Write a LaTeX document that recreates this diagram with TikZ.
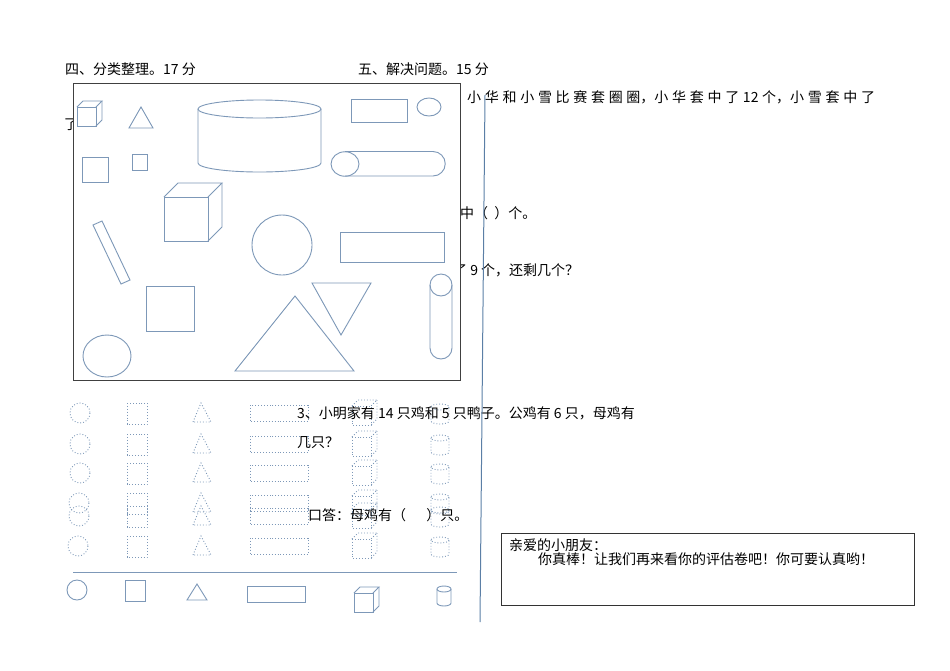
\documentclass[tikz,border=0pt]{standalone}
\usepackage{fontspec}
\newfontfamily\cjk{Noto Sans CJK SC}
\begin{document}
\begin{tikzpicture}[x=1pt,y=-1pt,
  shp/.style={draw=shapec,line width=0.9pt},
  dshp/.style={draw=shapec,line width=0.9pt,dotted},
  txt/.style={font=\cjk\fontsize{14}{16}\selectfont,anchor=west,inner sep=0pt,text=black}]
\definecolor{shapec}{HTML}{7D98B8}
\definecolor{linec}{HTML}{5B7FA6}
\useasboundingbox (0,0) rectangle (950,670);
\newcommand\mycube[5]{% x y w d style
  \draw[#5] (#1,#2) rectangle ({#1+#3},{#2+#3});
  \draw[#5] (#1,#2) -- ({#1+#4},{#2-#4}) -- ({#1+#3+#4},{#2-#4}) -- ({#1+#3},#2);
  \draw[#5] ({#1+#3+#4},{#2-#4}) -- ({#1+#3+#4},{#2+#3-#4}) -- ({#1+#3},{#2+#3});}
\newcommand\gsp{\hspace{3.7pt}}
% texts behind box
\node[txt] (t1) at (65,69) {四、分类整理。17 分};
\node[txt] (t2) at (358,69) {五、解决问题。15 分};
\node[txt] (t3) at (467,97) {小\gsp 华\gsp 和\gsp 小\gsp 雪\gsp 比\gsp 赛\gsp 套\gsp 圈\gsp 圈，小\gsp 华\gsp 套\gsp 中\gsp 了\gsp 12\gsp 个，小\gsp 雪\gsp 套\gsp 中\gsp 了};
\node[txt] (t4) at (64,125) {了};
\node[txt] (t5) at (446,213) {套中（\ \ ）个。};
\node[txt] (t6) at (439,270) {套了 9 个，还剩几个？};
% box
\draw[fill=white,draw=black!75,line width=0.8pt] (73,83) rectangle (460,380);
\mycube{77}{107}{19}{6}{shp}
\draw[shp] (129,128) -- (141,107) -- (153,128) -- cycle;
\draw[shp] (198,109) -- (198,163) arc[start angle=180,end angle=0,x radius=61.5,y radius=9] -- (321,109);
\draw[shp] (259.5,109) ellipse [x radius=61.5,y radius=9];
\draw[shp] (351,99) rectangle (407,122);
\draw[shp] (429,107) ellipse [x radius=12,y radius=9];
\draw[shp] (345,151.5) -- (433,151.5) arc[start angle=-90,end angle=90,radius=12.25] -- (345,176);
\draw[shp] (345,164) ellipse [x radius=14,y radius=12.25];
\draw[shp] (82,157) rectangle (108,182);
\draw[shp] (132,154) rectangle (147,170);
\mycube{164}{197}{44}{14}{shp}
\draw[shp] (93,225) -- (102,221) -- (130,280) -- (121,284) -- cycle;
\draw[shp] (282,245) circle[radius=30];
\draw[shp] (340,232) rectangle (444,262);
\draw[shp] (146,286) rectangle (194,331);
\draw[shp] (312,283) -- (371,283) -- (341,335) -- cycle;
\draw[shp] (235,371) -- (295,296) -- (354,371) -- cycle;
\draw[shp] (430,285) -- (430,348) arc[start angle=180,end angle=0,radius=11] -- (452,285);
\draw[shp] (441,285) circle[radius=11];
\draw[shp] (107,356) ellipse [x radius=24,y radius=21];
% dotted rows
\foreach \yy/\cx in {413/80,444/80,473/80,503/79,516/79,546/78}{
  \draw[dshp] (\cx,\yy) circle[radius=10];
  \draw[dshp] (127,{\yy-10}) rectangle (147,{\yy+11});
  \draw[dshp] (193,{\yy+9}) -- (201,{\yy-10}) -- (211,{\yy+9}) -- cycle;
  \draw[dshp] (250,{\yy-8}) rectangle (308,{\yy+8});
  \mycube{352}{\yy-7}{19}{6}{dshp}
  \draw[dshp] (431,{\yy-6}) -- (431,{\yy+8}) arc[start angle=180,end angle=0,x radius=9,y radius=3] -- (449,{\yy-6});
  \draw[dshp] (440,{\yy-6}) ellipse [x radius=9,y radius=3];
}
\draw[draw=shapec,line width=1pt] (73,572) -- (457,572);
\draw[shp] (77,590) circle[radius=10];
\draw[shp] (125,580) rectangle (145,601);
\draw[shp] (187,600) -- (197,584) -- (207,600) -- cycle;
\draw[shp] (247,586) rectangle (305,602);
\mycube{354}{593}{19}{6}{shp}
\draw[shp] (437,589) -- (437,603) arc[start angle=180,end angle=0,x radius=7,y radius=3] -- (451,589);
\draw[shp] (444,589) ellipse [x radius=7,y radius=3];
% texts on top
\node[txt] (t7) at (297,413) {3、小明家有 14 只鸡和 5 只鸭子。公鸡有 6 只，母鸡有};
\node[txt] (t8) at (297,443) {几只？};
\node[txt] (t9) at (308,515) {口答：母鸡有（\quad\ \ ）只。};
% vertical line
\draw[draw=linec,line width=1pt] (485,95) -- (480,622);
% bottom right box
\draw[draw=black!80,line width=0.7pt] (501,533) rectangle (914,605);
\node[txt] (t10) at (509,545) {亲爱的小朋友：};
\node[txt] (t11) at (538,559) {你真棒！让我们再来看你的评估卷吧！你可要认真哟！};
\end{tikzpicture}
\end{document}
